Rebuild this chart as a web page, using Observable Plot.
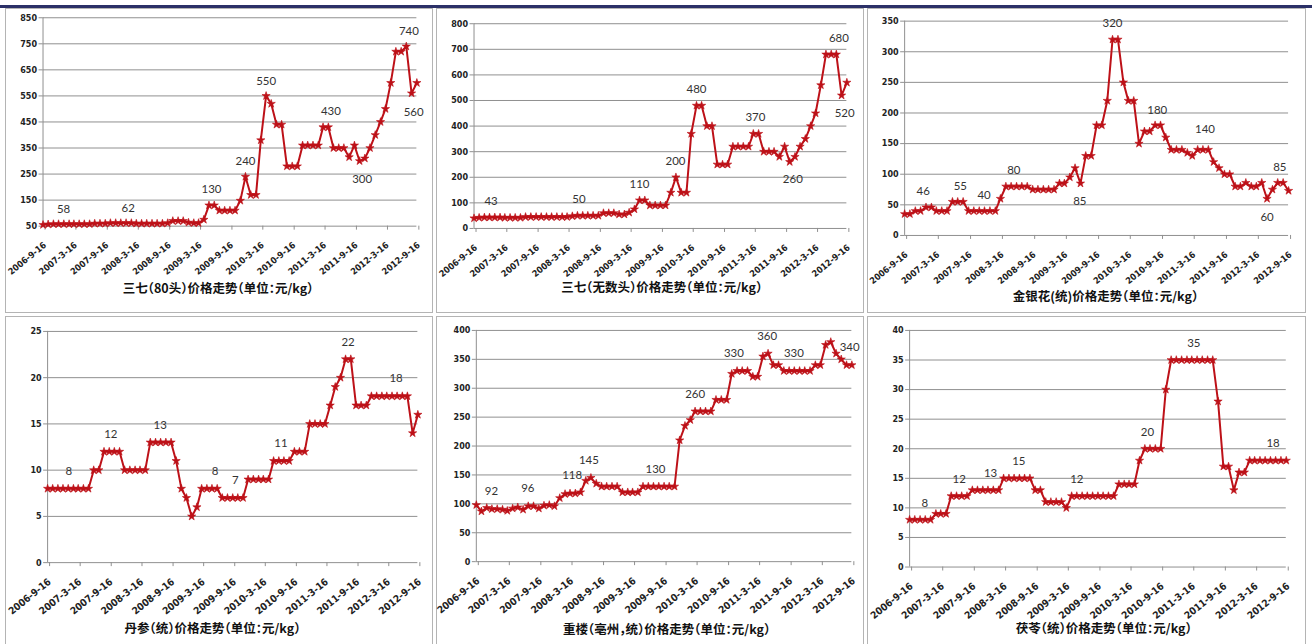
<!DOCTYPE html>
<html><head><meta charset="utf-8">
<script src="https://cdn.jsdelivr.net/npm/d3@7"></script>
<script src="https://cdn.jsdelivr.net/npm/@observablehq/plot@0.6"></script>
<style>
body{margin:0;background:#fff;}
#root{position:relative;width:1312px;height:644px;overflow:hidden;background:#fff;}
.bar{position:absolute;left:0;top:5px;width:1312px;height:3px;background:#2b3067;}
.panel{position:absolute;box-sizing:border-box;border:1px solid #b4b4b4;background:#fff;}
.panel svg{position:absolute;left:-1px;top:-1px;overflow:visible;}
.title{position:absolute;transform:translate(-50%,-50%);font-family:"Noto Sans CJK SC";font-weight:700;font-size:12.5px;white-space:nowrap;color:#111;font-feature-settings:"halt" 1;}
g[aria-label="x-axis tick label"] text, g[aria-label="y-axis tick label"] text{font-weight:bold;}
</style></head>
<body><div id="root"><div class="bar"></div></div>
<script>
// ---- shared x axis ----
const xTickLabels = ["2006-9-16","2007-3-16","2007-9-16","2008-3-16","2008-9-16","2009-3-16","2009-9-16","2010-3-16","2010-9-16","2011-3-16","2011-9-16","2012-3-16","2012-9-16"];

// ---- series (monthly readings, 2006-9-16 .. 2012-9-16) ----
const sanqi80 = [55,57,58,58,58,58,58,58,58,58, 60,60,60,62,62,62,62,62,60,60, 60,60,60,60,62,70,70,70,64,62, 62,75,130,130,110,110,110,110,148,240, 170,170,380,550,520,440,440,280,280,280, 360,360,360,360,430,430,350,350,350,315, 360,300,310,350,400,450,500,600,720,720, 740,560,600];
const sanqiWushu = [40,42,43,43,43,43,42,42,42,42, 45,45,45,45,45,45,45,45,45,48, 50,50,50,50,50,60,60,60,55,55, 62,75,110,110,90,90,90,90,140,200, 140,140,370,480,480,400,400,250,250,250, 320,320,320,320,370,370,300,300,300,280, 320,260,280,320,350,400,450,560,680,680, 680,520,570];
const jinyinhua = [35,35,40,40,46,46,40,40,40,55, 55,55,40,40,40,40,40,40,60,80, 80,80,80,80,75,75,75,75,75,85, 85,95,110,85,130,130,180,180,220,320, 320,250,220,220,150,170,170,180,180,160, 140,140,140,135,130,140,140,140,120,110, 100,100,80,80,86,80,80,86,60,75, 86,86,73];
const danshen = [8,8,8,8,8,8,8,8,8,10, 10,12,12,12,12,10,10,10,10,10, 13,13,13,13,13,11,8,7,5,6, 8,8,8,8,7,7,7,7,7,9, 9,9,9,9,11,11,11,11,12,12, 12,15,15,15,15,17,19,20,22,22, 17,17,17,18,18,18,18,18,18,18, 18,14,16];
const chonglou = [98,87,93,91,91,90,88,92,94,90, 96,96,92,97,98,96,110,117,118,118, 120,140,145,135,130,130,130,130,120,120, 120,120,130,130,130,130,130,130,130,210, 235,245,260,260,260,260,280,280,280,325, 330,330,330,320,320,355,360,340,340,330, 330,330,330,330,330,340,340,375,380,360, 350,340,340];
const fuling = [8,8,8,8,8,9,9,9,12,12, 12,12,13,13,13,13,13,13,15,15, 15,15,15,15,13,13,11,11,11,11, 10,12,12,12,12,12,12,12,12,12, 14,14,14,14,18,20,20,20,20,30, 35,35,35,35,35,35,35,35,35,28, 17,17,13,16,16,18,18,18,18,18, 18,18,18];

// ---- y ticks ----
const yTicks1 = [50,150,250,350,450,550,650,750,850];
const yTicks2 = [0,100,200,300,400,500,600,700,800];
const yTicks3 = [0,50,100,150,200,250,300,350];
const yTicks4 = [0,5,10,15,20,25];
const yTicks5 = [0,50,100,150,200,250,300,350,400];
const yTicks6 = [0,5,10,15,20,25,30,35,40];

// ---- data labels: [month index, value position, text] ----
const labels1 = [[3.96,116,"58"],[16.4,120,"62"],[32.5,190,"130"],[39,298,"240"],[43,607,"550"],[55.5,489,"430"],[61.5,228,"300"],[70.5,798,"740"],[71.4,487,"560"]];
const labels2 = [[3.3,106,"43"],[20.3,113,"50"],[32,174,"110"],[38.9,262,"200"],[43,543,"480"],[54.4,433,"370"],[61.6,191,"260"],[70.5,742,"680"],[71.6,450,"520"]];
const labels3 = [[3.5,72,"46"],[10.5,80,"55"],[14.9,66,"40"],[20.5,106,"80"],[32.9,56,"85"],[39,346,"320"],[47.4,205,"180"],[56.4,173,"140"],[68,30,"60"],[70.4,111,"85"]];
const labels4 = [[4.1,9.86,"8"],[12.3,13.9,"12"],[21.9,14.8,"13"],[32.6,9.86,"8"],[36.5,8.9,"7"],[45.4,12.9,"11"],[58.5,23.85,"22"],[67.8,19.9,"18"]];
const labels5 = [[2.9,122,"92"],[9.9,126,"96"],[18.4,149,"118"],[21.6,175,"145"],[34.4,160,"130"],[42,290,"260"],[49.4,360,"330"],[55.8,390,"360"],[60.9,360,"330"],[71.6,370,"340"]];
const labels6 = [[2.9,10.8,"8"],[9.5,14.9,"12"],[15.5,15.8,"13"],[20.9,17.8,"15"],[32,14.9,"12"],[45.5,22.8,"20"],[54.4,37.9,"35"],[69.5,20.9,"18"]];

// ---- titles ----
const titles = ["三七（80头）价格走势（单位：元/kg）","三七（无数头）价格走势（单位：元/kg）","金银花(统)价格走势（单位：元/kg）","丹参（统）价格走势（单位：元/kg）","重楼（亳州，统）价格走势（单位：元/kg）","茯苓（统）价格走势（单位：元/kg）"];

const RED = "#bd1118";
const GRID = "#8f8f8f";
const parseD = d3.utcParse("%Y-%m-%d");
const xTicks = xTickLabels.map(parseD);
const start = xTicks[0], end = xTicks[xTicks.length-1];
const fmt = d3.utcFormat("%Y-%-m-%-d");
const DAY = 86400000;

const panels = [
  {values:sanqi80, ticks:yTicks1, labels:labels1, box:[5,8,428,305], m:[37.7,14.7,9.3,86.3], t:[218,287], fs:9},
  {values:sanqiWushu, ticks:yTicks2, labels:labels2, box:[436,8,428,305], m:[37.7,15.7,15.3,84], t:[661.7,286], fs:9},
  {values:jinyinhua, ticks:yTicks3, labels:labels3, box:[867,8,439,305], m:[37.3,16,12.7,77], t:[1105.5,295], fs:9},
  {values:danshen, ticks:yTicks4, labels:labels4, box:[5,316,428,330], m:[42.3,13.7,15,82.7], t:[212.5,626.7], fs:10},
  {values:chonglou, ticks:yTicks5, labels:labels5, box:[436,316,428,330], m:[40,10.7,14,83.7], t:[666.7,628], fs:10},
  {values:fuling, ticks:yTicks6, labels:labels6, box:[867,316,439,330], m:[42.3,18.3,14,78.3], t:[1103.8,627.3], fs:10}
];

const root = document.getElementById("root");
panels.forEach((p, k) => {
  const [bx, by, bw, bh] = p.box;
  const div = document.createElement("div");
  div.className = "panel";
  Object.assign(div.style, {left: bx+"px", top: by+"px", width: bw+"px", height: bh+"px"});
  const data = p.values.map((v,i) => ({date: d3.utcMonth.offset(start, i), value: v}));
  const lab = p.labels.map(([m,v,t]) => ({date: new Date(+d3.utcMonth.offset(start, Math.floor(m)) + (m - Math.floor(m))*30.4*DAY), value: v, text: t}));
  const yMin = p.ticks[0], yMax = p.ticks[p.ticks.length-1];
  const chart = Plot.plot({
    width: bw, height: bh,
    marginLeft: p.m[0], marginRight: p.m[1], marginTop: p.m[2], marginBottom: p.m[3],
    style: {background: "transparent", fontFamily: "'DejaVu Sans Condensed', 'DejaVu Sans', sans-serif", fontSize: "9px", color: "#222", overflow: "visible"},
    x: {type: "utc", domain: [start, end]},
    y: {domain: [yMin, yMax]},
    marks: [
      Plot.gridY(p.ticks.slice(1), {stroke: GRID, strokeOpacity: 1, strokeWidth: 1}),
      Plot.ruleY([yMin], {stroke: GRID, strokeWidth: 1}),
      Plot.ruleX([start], {stroke: GRID, strokeWidth: 1}),
      Plot.axisY(p.ticks, {tickSize: 4, tickPadding: 2, stroke: GRID, label: null, fill: "#222", fontSize: 9}),
      Plot.axisX(xTicks, {tickRotate: -39, tickSize: 4, tickPadding: 14, dx: 2, tickFormat: fmt, stroke: GRID, label: null, fill: "#222", fontSize: p.fs}),
      Plot.line(data, {x: "date", y: "value", stroke: RED, strokeWidth: 2}),
      Plot.dot(data, {x: "date", y: "value", symbol: "star", r: 2.6, fill: RED, stroke: RED, strokeWidth: 0.6}),
      Plot.text(lab, {x: "date", y: "value", text: "text", fontFamily: "Lato, 'Open Sans', sans-serif", fontSize: 11.5, fill: "#333"})
    ]
  });
  div.appendChild(chart);
  root.appendChild(div);
  const t = document.createElement("div");
  t.className = "title";
  t.textContent = titles[k];
  Object.assign(t.style, {left: p.t[0]+"px", top: p.t[1]+"px"});
  root.appendChild(t);
});
</script>
</body></html>
